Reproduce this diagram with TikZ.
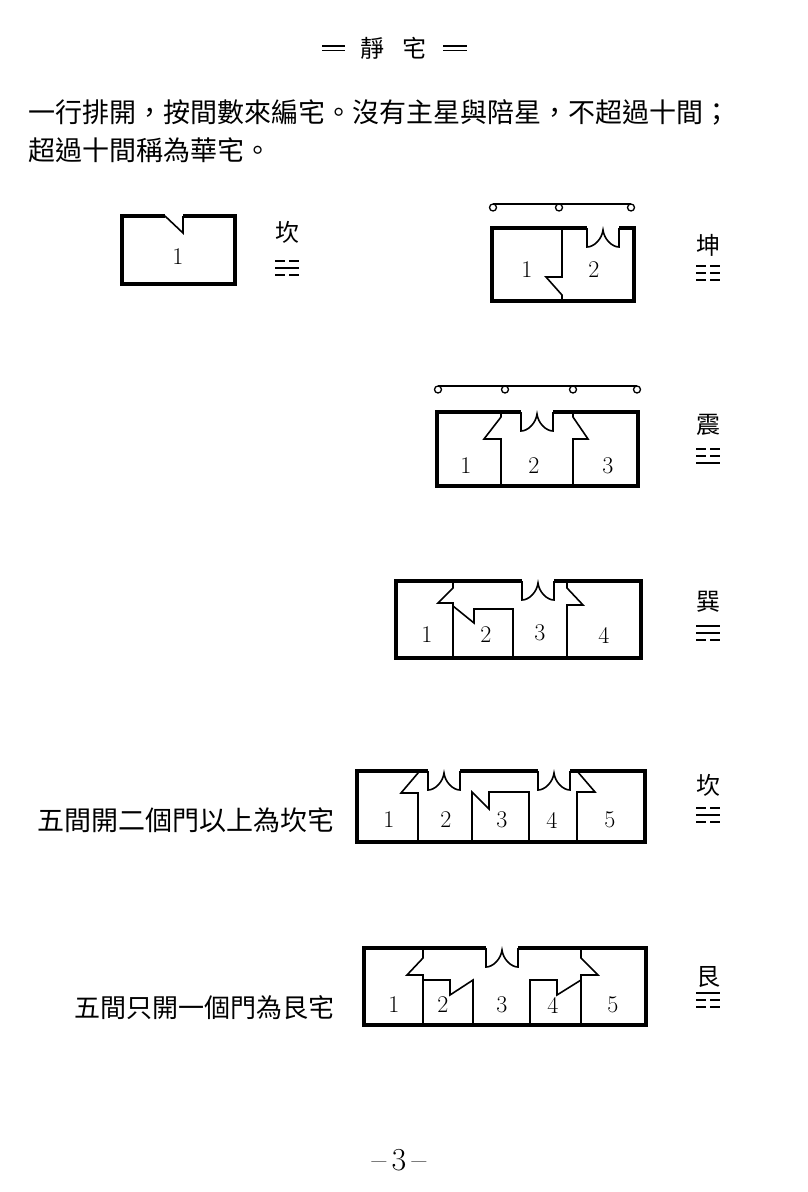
\documentclass[tikz,border=0pt]{standalone}
\usepackage{fontspec}
\newfontfamily\cjk{Noto Sans CJK TC}
\usetikzlibrary{calc}

% trigram: centre, then top, middle, bottom line (1 whole, 0 broken)
\newcommand{\gua}[4]{%
	\foreach \b [count=\i] in {#2,#3,#4}{
		\ifnum\b=1
			\draw[yao] (#1) ++(-12,{(\i-2)*7}) -- ++(24,0);
		\else
			\draw[yao] (#1) ++(-12,{(\i-2)*7}) -- ++(10,0) ++(4,0) -- ++(10,0);
		\fi
	}%
}

\begin{document}
\begin{tikzpicture}[x=1pt,y=-1pt,
	wall/.style={line width=3.2pt,line join=miter},
	inner/.style={line width=1.6pt,line join=miter},
	bar/.style={line width=1.3pt},
	yao/.style={line width=2.2pt},
	num/.style={inner sep=0pt,font=\fontsize{24pt}{24pt}\selectfont},
	zi/.style={inner sep=0pt,font=\cjk\fontsize{24pt}{24pt}\selectfont},
	wen/.style={inner sep=0pt,font=\cjk\fontsize{27pt}{27pt}\selectfont},
	menkou/.pic={\draw[inner] (-16,0) -- (-16,19) .. controls (-9,19) and (-1,11) .. (0,2) .. controls (1,11) and (9,19) .. (16,19) -- (16,0);}]
	\fill[white] (0,0) rectangle (807,1192);
	\useasboundingbox (0,0) rectangle (807,1192);
	%
	% title and text
	\node[zi] (jing) at (372,48) {靜};
	\node[zi] (zhai) at (414,48) {宅};
	\draw[line width=1.2pt] (322,46) -- (345,46) (322,50.5) -- (345,50.5)
		(443,46) -- (467,46) (443,50.5) -- (467,50.5);
	\node[wen,anchor=west] (hang1) at (28,112) {一行排開，按間數來編宅。沒有主星與陪星，不超過十間；};
	\node[wen,anchor=west] (hang2) at (28,150) {超過十間稱為華宅。};
	%
	% one room
	\draw[wall] (165,216) -- (122,216) -- (122,284) -- (235,284) -- (235,216) -- (183,216);
	\draw[inner] (165,216) -- (183,233) -- (183,216);
	\node[num] (kan1) at (178,257) {1};
	\node[zi] (kanzi) at (287,232) {坎};
	\coordinate (kangua) at (287,268);
	\gua{kangua}{0}{1}{0}
	%
	% two rooms
	\draw[bar] (493,204) -- (631,204);
	\foreach \x in {493,559,631} \draw[bar] (\x,207.5) circle[radius=3.5];
	\draw[wall] (587,228) -- (492,228) -- (492,301) -- (634,301) -- (634,228) -- (619,228);
	\pic at (603,228) {menkou};
	\draw[inner] (562,228) -- (562,277) -- (546,277) -- (562,295) -- (562,301);
	\node[num] (kun1) at (527,270) {1};
	\node[num] (kun2) at (594,270) {2};
	\node[zi] (kunzi) at (708,245) {坤};
	\coordinate (kungua) at (708,273);
	\gua{kungua}{0}{0}{0}
	%
	% three rooms
	\draw[bar] (438,386) -- (637,386);
	\foreach \x in {438,505,573,637} \draw[bar] (\x,389.5) circle[radius=3.5];
	\draw[wall] (521,412) -- (437,412) -- (437,486) -- (638,486) -- (638,412) -- (553,412);
	\pic at (537,412) {menkou};
	\draw[inner] (501,412) -- (501,417) -- (484,439) -- (501,439) -- (501,486);
	\draw[inner] (573,412) -- (573,417) -- (588,439) -- (573,439) -- (573,486);
	\node[num] (zhen1) at (466,466) {1};
	\node[num] (zhen2) at (534,466) {2};
	\node[num] (zhen3) at (608,466) {3};
	\node[zi] (zhenzi) at (708,425) {震};
	\coordinate (zhengua) at (708,456);
	\gua{zhengua}{0}{0}{1}
	%
	% four rooms
	\draw[wall] (522,581) -- (396,581) -- (396,658) -- (641,658) -- (641,581) -- (554,581);
	\pic at (538,581) {menkou};
	\draw[inner] (453,581) -- (453,588) -- (438,603) -- (453,603) -- (453,658);
	\draw[inner] (453,606) -- (474,623) -- (474,609) -- (513,609) -- (513,658);
	\draw[inner] (567,581) -- (567,588) -- (583,605) -- (567,605) -- (567,658);
	\node[num] (xun1) at (427,635) {1};
	\node[num] (xun2) at (486,635) {2};
	\node[num] (xun3) at (540,633) {3};
	\node[num] (xun4) at (604,635) {4};
	\node[zi] (xunzi) at (708,602) {巽};
	\coordinate (xungua) at (708,633);
	\gua{xungua}{1}{1}{0}
	%
	% five rooms, two doors
	\node[wen,anchor=east] (kanwen) at (335,820) {五間開二個門以上為坎宅};
	\draw[wall] (428,771) -- (357,771) -- (357,842) -- (645,842) -- (645,771) -- (570,771);
	\draw[wall] (460,771) -- (538,771);
	\pic at (444,771) {menkou};
	\pic at (554,771) {menkou};
	\draw[inner] (418,771) -- (418,773) -- (401,793) -- (418,793) -- (418,842);
	\draw[inner] (472,842) -- (472,792) -- (489,809) -- (489,792) -- (529,792) -- (529,842);
	\draw[inner] (577,771) -- (595,792) -- (577,792) -- (577,842);
	\node[num] (kan51) at (389,820) {1};
	\node[num] (kan52) at (446,820) {2};
	\node[num] (kan53) at (502,820) {3};
	\node[num] (kan54) at (552,820) {4};
	\node[num] (kan55) at (610,820) {5};
	\node[zi] (kan5zi) at (708,785) {坎};
	\coordinate (kan5gua) at (708,815);
	\gua{kan5gua}{0}{1}{0}
	%
	% five rooms, one door
	\node[wen,anchor=east,font=\cjk\fontsize{26pt}{26pt}\selectfont] (genwen) at (335,1008) {五間只開一個門為艮宅};
	\draw[wall] (486,948) -- (364,948) -- (364,1025) -- (646,1025) -- (646,948) -- (518,948);
	\pic at (502,948) {menkou};
	\draw[inner] (423,948) -- (423,958) -- (407,975) -- (423,975) -- (423,1025);
	\draw[inner] (423,980) -- (450,980) -- (450,995) -- (473,980) -- (473,1025);
	\draw[inner] (581,948) -- (581,958) -- (598,975) -- (581,975) -- (581,1025);
	\draw[inner] (530,1025) -- (530,980) -- (557,980) -- (557,995) -- (581,980);
	\node[num] (gen1) at (394,1005) {1};
	\node[num] (gen2) at (443,1005) {2};
	\node[num] (gen3) at (502,1005) {3};
	\node[num] (gen4) at (553,1005) {4};
	\node[num] (gen5) at (613,1005) {5};
	\node[zi] (genzi) at (708,977) {艮};
	\coordinate (gengua) at (708,1000);
	\gua{gengua}{1}{0}{0}
	%
	% page number
	\node[font=\fontsize{32pt}{32pt}\selectfont] (yema) at (399,1160) {\textendash\,3\,\textendash};
\end{tikzpicture}
\end{document}
